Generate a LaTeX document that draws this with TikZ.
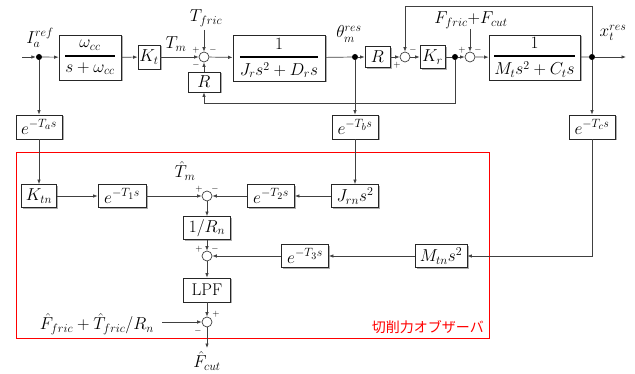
\documentclass[tikz,border=0pt]{standalone}
\usepackage{amsmath}
\usepackage{fontspec}
\newfontfamily\jpfont{Noto Sans CJK JP}
\DeclareMathSizes{17}{17}{12.5}{10}
\usetikzlibrary{arrows.meta,shadows}
\begin{document}
\begin{tikzpicture}[x=1pt,y=-1pt,
  every node/.style={font=\fontsize{17}{20}\selectfont},
  blk/.style={draw=black!85, fill=white, line width=0.8pt, inner sep=0pt,
    drop shadow={shadow xshift=1.5pt, shadow yshift=-1.5pt, fill=black!45, opacity=0.7}},
  sumj/.style={circle, draw=black!75, fill=white, line width=0.7pt, minimum size=10pt, inner sep=0pt},
  dotj/.style={circle, fill=black, minimum size=6pt, inner sep=0pt},
  ar/.style={-{Latex[length=4.5pt,width=3.5pt]}, draw=black!75, line width=0.7pt},
  ln/.style={draw=black!75, line width=0.7pt},
  sg/.style={font=\fontsize{9}{9}\selectfont, inner sep=0pt},
  lbl/.style={inner sep=0pt}]
\useasboundingbox (0,0) rectangle (635,374);

% ---------- main loop ----------
\coordinate (in) at (22,57);
\node[dotj] (d1) at (39,57) {};
\node[blk, minimum width=62pt, minimum height=45pt] (wcc) at (90,57.5)
  {$\genfrac{}{}{1.6pt}{0}{\omega_{cc}}{s+\omega_{cc}}$};
\node[blk, minimum width=22pt, minimum height=24pt] (Kt) at (149,57) {$K_t$};
\node[sumj] (s1) at (204,57) {};
\node[blk, minimum width=32pt, minimum height=20pt] (R1) at (204,82) {$R$};
\coordinate (tf) at (204,30);
\node[blk, minimum width=92pt, minimum height=46pt] (Jr) at (279,58)
  {$\genfrac{}{}{1.6pt}{0}{1}{J_r s^2+D_r s}$};
\node[dotj] (d2) at (355,57) {};
\node[blk, minimum width=25pt, minimum height=21pt] (R2) at (377.5,57) {$R$};
\node[sumj] (s2) at (405,57) {};
\node[blk, minimum width=25pt, minimum height=23pt] (Kr) at (432.5,57) {$K_r$};
\node[dotj] (d3) at (455,57) {};
\node[sumj] (s3) at (470,57) {};
\coordinate (ff) at (470,29);
\node[blk, minimum width=91pt, minimum height=45pt] (Mt) at (534.5,57.5)
  {$\genfrac{}{}{1.6pt}{0}{1}{M_t s^2+C_t s}$};
\node[dotj] (d4) at (592,57) {};
\coordinate (out) at (626,57);
\coordinate (top) at (592,6);
\coordinate (fb) at (455,103);

% labels
\node[lbl] (lIa) at (40,38) {$I_a^{ref}$};
\node[lbl] (lTm) at (176,44) {$T_m$};
\node[lbl] (lTf) at (206,18) {$T_{fric}$};
\node[lbl] (lth) at (349,34) {$\theta_m^{res}$};
\node[lbl] (lFf) at (471,20) {$F_{fric}{+}F_{cut}$};
\node[lbl] (lx) at (613,33) {$x_t^{res}$};

% signs
\node[sg] at (196,50) {$+$};
\node[sg] at (213,50) {$-$};
\node[sg] at (196,65) {$-$};
\node[sg] at (413,50) {$-$};
\node[sg] at (397,65) {$+$};
\node[sg] at (462,50) {$+$};
\node[sg] at (478,50) {$-$};

% connectors
\draw[ar] (in) -- (d1);
\draw[ar] (d1) -- (wcc);
\draw[ar] (wcc) -- (Kt);
\draw[ar] (Kt) -- (s1);
\draw[ar] (tf) -- (s1);
\draw[ar] (R1) -- (s1);
\draw[ar] (s1) -- (Jr);
\draw[ln] (Jr) -- (d2);
\draw[ar] (d2) -- (R2);
\draw[ar] (R2) -- (s2);
\draw[ar] (s2) -- (Kr);
\draw[ln] (Kr) -- (d3);
\draw[ar] (d3) -- (s3);
\draw[ar] (ff) -- (s3);
\draw[ar] (s3) -- (Mt);
\draw[ln] (Mt) -- (d4);
\draw[ar] (d4) -- (out);
\draw[ar] (d4) -- (top) -| (s2);
\draw[ar] (d3) -- (fb) -| (R1);

% ---------- delays ----------
\node[blk, minimum width=46pt, minimum height=24pt] (Ta) at (39,127) {$e^{-T_a s}$};
\node[blk, minimum width=46pt, minimum height=24pt] (Tb) at (355,127) {$e^{-T_b s}$};
\node[blk, minimum width=46pt, minimum height=24pt] (Tc) at (592,127) {$e^{-T_c s}$};
\draw[ar] (d1) -- (Ta);
\draw[ar] (d2) -- (Tb);
\draw[ar] (d4) -- (Tc);

% ---------- observer ----------
\draw[red, line width=1pt] (16,153) rectangle (489,338);
\node[lbl, anchor=east, text=red, font=\jpfont\fontsize{14}{16}\selectfont] (obs) at (484,327) {切削力オブザーバ};

\node[blk, minimum width=35pt, minimum height=23pt] (Ktn) at (39,196) {$K_{tn}$};
\node[blk, minimum width=48pt, minimum height=23pt] (T1) at (122,196) {$e^{-T_1 s}$};
\node[sumj] (s4) at (207,196) {};
\node[blk, minimum width=47pt, minimum height=23pt] (T2) at (271,196) {$e^{-T_2 s}$};
\node[blk, minimum width=47pt, minimum height=23pt] (Jrn) at (355,196) {$J_{rn}s^2$};
\node[blk, minimum width=47pt, minimum height=23pt] (Rn) at (207,228) {$1/R_n$};
\node[sumj] (s5) at (207,256) {};
\node[blk, minimum width=47pt, minimum height=23pt] (T3) at (305,256) {$e^{-T_3 s}$};
\node[blk, minimum width=52pt, minimum height=23pt] (Mtn) at (441,256) {$M_{tn}s^2$};
\node[blk, minimum width=47pt, minimum height=24pt] (LPF) at (207,290) {LPF};
\node[sumj] (s6) at (207,322) {};
\coordinate (fin) at (162,322);
\coordinate (fout) at (207,348);

\node[lbl] (lTmh) at (185,171) {$\hat{T}_m$};
\node[lbl, anchor=east] (lfin) at (154,324) {$\hat{F}_{fric}+\hat{T}_{fric}/R_n$};
\node[lbl] (lFc) at (207,361) {$\hat{F}_{cut}$};

\node[sg] at (199,189) {$+$};
\node[sg] at (215,189) {$-$};
\node[sg] at (199,249) {$+$};
\node[sg] at (215,249) {$-$};
\node[sg] at (216,314) {$+$};
\node[sg] at (198,331) {$-$};

\draw[ar] (Ta) -- (Ktn);
\draw[ar] (Ktn) -- (T1);
\draw[ar] (T1) -- (s4);
\draw[ar] (Tb) -- (Jrn);
\draw[ar] (Jrn) -- (T2);
\draw[ar] (T2) -- (s4);
\draw[ar] (s4) -- (Rn);
\draw[ar] (Rn) -- (s5);
\draw[ar] (Tc) |- (Mtn);
\draw[ar] (Mtn) -- (T3);
\draw[ar] (T3) -- (s5);
\draw[ar] (s5) -- (LPF);
\draw[ar] (LPF) -- (s6);
\draw[ar] (fin) -- (s6);
\draw[ar] (s6) -- (fout);
\end{tikzpicture}
\end{document}
